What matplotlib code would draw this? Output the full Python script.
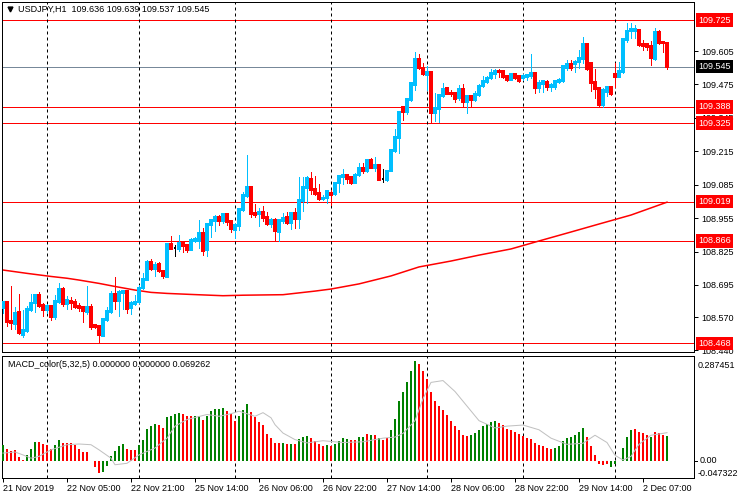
import matplotlib
matplotlib.use("Agg")
import matplotlib.pyplot as plt
import matplotlib.transforms as mtransforms

plt.rcParams['font.family'] = ['Liberation Sans', 'DejaVu Sans']

# ---------------- data ----------------
symbol = "USDJPY,H1"
header_ohlc = "109.636 109.639 109.537 109.545"
macd_title = "MACD_color(5,32,5) 0.000000 0.000000 0.069262"

opens = [108.607, 108.629, 108.554, 108.544, 108.590, 108.500, 108.516, 108.597, 108.625, 108.656,
         108.617, 108.597, 108.614, 108.572, 108.630, 108.679, 108.621, 108.632, 108.629, 108.614,
         108.608, 108.591, 108.609, 108.538, 108.535, 108.498, 108.559, 108.591, 108.660, 108.634,
         108.665, 108.671, 108.607, 108.619, 108.630, 108.682, 108.715, 108.784, 108.758, 108.776,
         108.749, 108.727, 108.854, 108.839, 108.835, 108.857, 108.849, 108.831, 108.866, 108.866,
         108.896, 108.831, 108.928, 108.945, 108.959, 108.945, 108.971, 108.944, 108.909, 108.926,
         108.987, 109.042, 109.077, 108.976, 108.971, 108.979, 108.961, 108.932, 108.948, 108.902,
         108.944, 108.959, 108.937, 108.975, 108.952, 109.022, 109.071, 109.107, 109.068, 109.051,
         109.028, 109.032, 109.054, 109.047, 109.090, 109.116, 109.123, 109.114, 109.093, 109.123,
         109.151, 109.138, 109.181, 109.151, 109.162, 109.106, 109.103, 109.138, 109.216, 109.265,
         109.389, 109.367, 109.415, 109.473, 109.574, 109.538, 109.512, 109.525, 109.363, 109.380,
         109.431, 109.463, 109.443, 109.440, 109.421, 109.457, 109.408, 109.430, 109.414, 109.434,
         109.469, 109.486, 109.499, 109.515, 109.528, 109.527, 109.508, 109.492, 109.514, 109.508,
         109.499, 109.505, 109.508, 109.518, 109.462, 109.476, 109.486, 109.466, 109.466, 109.483,
         109.488, 109.540, 109.554, 109.553, 109.561, 109.576, 109.632, 109.557, 109.483, 109.460,
         109.395, 109.444, 109.466, 109.515, 109.505, 109.522, 109.648, 109.683, 109.684, 109.687,
         109.632, 109.632, 109.626, 109.576, 109.680, 109.641, 109.636]
highs = [108.632, 108.632, 108.691, 108.609, 108.660, 108.597, 108.613, 108.660, 108.661, 108.666,
         108.623, 108.621, 108.617, 108.655, 108.701, 108.686, 108.652, 108.649, 108.640, 108.623,
         108.613, 108.692, 108.619, 108.543, 108.536, 108.562, 108.610, 108.673, 108.727, 108.675,
         108.675, 108.675, 108.634, 108.656, 108.695, 108.740, 108.792, 108.797, 108.783, 108.785,
         108.753, 108.854, 108.885, 108.850, 108.889, 108.862, 108.853, 108.876, 108.880, 108.948,
         108.918, 108.932, 108.950, 108.966, 108.966, 108.971, 108.971, 108.948, 108.937, 108.993,
         109.058, 109.201, 109.077, 109.010, 108.996, 109.002, 108.977, 108.957, 108.954, 108.952,
         108.974, 108.980, 108.980, 108.993, 109.114, 109.114, 109.119, 109.134, 109.119, 109.086,
         109.045, 109.064, 109.064, 109.097, 109.123, 109.146, 109.127, 109.119, 109.129, 109.168,
         109.168, 109.181, 109.190, 109.194, 109.166, 109.145, 109.142, 109.220, 109.300, 109.369,
         109.392, 109.421, 109.482, 109.600, 109.592, 109.557, 109.548, 109.527, 109.440, 109.434,
         109.479, 109.465, 109.453, 109.447, 109.473, 109.475, 109.436, 109.436, 109.449, 109.475,
         109.508, 109.509, 109.537, 109.535, 109.535, 109.528, 109.512, 109.514, 109.517, 109.512,
         109.514, 109.517, 109.593, 109.522, 109.492, 109.492, 109.492, 109.479, 109.492, 109.499,
         109.550, 109.570, 109.570, 109.570, 109.609, 109.658, 109.635, 109.560, 109.535, 109.462,
         109.460, 109.466, 109.466, 109.557, 109.563, 109.652, 109.713, 109.716, 109.706, 109.689,
         109.648, 109.635, 109.644, 109.693, 109.687, 109.644, 109.639]
lows = [108.584, 108.536, 108.522, 108.524, 108.503, 108.494, 108.513, 108.594, 108.590, 108.610,
        108.576, 108.584, 108.559, 108.561, 108.626, 108.614, 108.603, 108.603, 108.604, 108.594,
        108.551, 108.581, 108.524, 108.526, 108.468, 108.498, 108.556, 108.584, 108.601, 108.576,
        108.600, 108.584, 108.582, 108.617, 108.623, 108.678, 108.714, 108.753, 108.731, 108.744,
        108.723, 108.727, 108.835, 108.808, 108.827, 108.824, 108.824, 108.831, 108.862, 108.837,
        108.811, 108.808, 108.883, 108.906, 108.928, 108.935, 108.928, 108.902, 108.876, 108.909,
        108.984, 109.038, 108.961, 108.961, 108.926, 108.944, 108.928, 108.922, 108.870, 108.866,
        108.935, 108.932, 108.911, 108.915, 108.915, 108.984, 109.013, 109.049, 109.045, 109.025,
        109.025, 109.013, 109.006, 109.045, 109.058, 109.088, 109.090, 109.086, 109.090, 109.119,
        109.132, 109.136, 109.149, 109.138, 109.103, 109.097, 109.101, 109.138, 109.214, 109.207,
        109.337, 109.360, 109.412, 109.453, 109.534, 109.512, 109.453, 109.324, 109.334, 109.330,
        109.428, 109.437, 109.430, 109.408, 109.414, 109.388, 109.365, 109.392, 109.410, 109.430,
        109.464, 109.479, 109.495, 109.499, 109.505, 109.502, 109.490, 109.492, 109.496, 109.483,
        109.492, 109.492, 109.501, 109.443, 109.447, 109.447, 109.453, 109.449, 109.457, 109.479,
        109.486, 109.531, 109.531, 109.525, 109.541, 109.557, 109.531, 109.449, 109.421, 109.392,
        109.388, 109.431, 109.434, 109.466, 109.505, 109.518, 109.641, 109.654, 109.654, 109.624,
        109.609, 109.611, 109.550, 109.572, 109.631, 109.602, 109.537]
closes = [108.630, 108.552, 108.546, 108.586, 108.507, 108.520, 108.601, 108.623, 108.656, 108.614,
          108.599, 108.613, 108.572, 108.632, 108.679, 108.621, 108.636, 108.625, 108.610, 108.607,
          108.594, 108.608, 108.533, 108.533, 108.499, 108.562, 108.594, 108.660, 108.634, 108.667,
          108.671, 108.603, 108.625, 108.630, 108.683, 108.718, 108.784, 108.758, 108.773, 108.750,
          108.731, 108.854, 108.836, 108.839, 108.857, 108.846, 108.831, 108.870, 108.875, 108.896,
          108.828, 108.932, 108.948, 108.958, 108.945, 108.971, 108.941, 108.913, 108.927, 108.990,
          109.045, 109.077, 108.972, 108.967, 108.979, 108.957, 108.932, 108.948, 108.906, 108.948,
          108.957, 108.937, 108.974, 108.952, 109.025, 109.075, 109.110, 109.064, 109.047, 109.029,
          109.035, 109.060, 109.045, 109.090, 109.119, 109.123, 109.107, 109.093, 109.124, 109.151,
          109.138, 109.181, 109.151, 109.162, 109.103, 109.106, 109.138, 109.220, 109.269, 109.369,
          109.369, 109.418, 109.479, 109.574, 109.538, 109.516, 109.522, 109.365, 109.385, 109.434,
          109.456, 109.438, 109.437, 109.417, 109.457, 109.408, 109.430, 109.414, 109.438, 109.470,
          109.488, 109.502, 109.519, 109.528, 109.523, 109.505, 109.492, 109.514, 109.501, 109.488,
          109.509, 109.512, 109.518, 109.462, 109.479, 109.488, 109.466, 109.474, 109.488, 109.492,
          109.547, 109.554, 109.541, 109.563, 109.579, 109.632, 109.534, 109.482, 109.457, 109.395,
          109.453, 109.466, 109.438, 109.505, 109.527, 109.652, 109.684, 109.689, 109.691, 109.628,
          109.626, 109.619, 109.579, 109.680, 109.637, 109.635, 109.545]

# moving average (sampled at bar indices)
ma_idx = [0, 6, 12, 16, 19, 24, 28, 33, 37, 41, 47, 55, 60, 70, 78, 82, 89, 97, 104,
          112, 119, 127, 134, 142, 149, 157, 166]
ma_val = [108.753, 108.740, 108.728, 108.721, 108.714, 108.701, 108.689, 108.675, 108.666,
          108.662, 108.658, 108.653, 108.655, 108.657, 108.671, 108.679, 108.699, 108.730,
          108.765, 108.788, 108.811, 108.835, 108.866, 108.901, 108.932, 108.967, 109.017]

# MACD histogram and colours (g = rising, r = falling)
macd_hist = [0.042, 0.032, 0.026, 0.030, 0.009, 0.003, 0.016, 0.032, 0.051, 0.051,
             0.046, 0.044, 0.032, 0.044, 0.058, 0.049, 0.049, 0.049, 0.042, 0.033,
             0.023, 0.023, -0.002, -0.016, -0.034, -0.030, -0.014, 0.012, 0.026, 0.041,
             0.047, 0.032, 0.030, 0.030, 0.042, 0.058, 0.086, 0.095, 0.102, 0.097,
             0.090, 0.120, 0.124, 0.129, 0.132, 0.127, 0.122, 0.122, 0.122, 0.122,
             0.113, 0.122, 0.136, 0.141, 0.143, 0.144, 0.136, 0.127, 0.110, 0.122,
             0.138, 0.155, 0.133, 0.120, 0.106, 0.097, 0.074, 0.062, 0.050, 0.049,
             0.049, 0.046, 0.046, 0.046, 0.061, 0.064, 0.068, 0.062, 0.055, 0.047,
             0.041, 0.043, 0.040, 0.046, 0.055, 0.062, 0.060, 0.056, 0.058, 0.066,
             0.065, 0.073, 0.071, 0.072, 0.063, 0.058, 0.062, 0.085, 0.115, 0.165,
             0.190, 0.215, 0.245, 0.275, 0.265, 0.245, 0.225, 0.190, 0.165, 0.150,
             0.140, 0.125, 0.110, 0.095, 0.085, 0.072, 0.068, 0.070, 0.075, 0.085,
             0.095, 0.100, 0.105, 0.108, 0.104, 0.097, 0.088, 0.085, 0.080, 0.073,
             0.068, 0.062, 0.060, 0.050, 0.044, 0.040, 0.035, 0.033, 0.035, 0.040,
             0.055, 0.062, 0.066, 0.070, 0.078, 0.090, 0.065, 0.040, 0.015, -0.008,
             -0.012, -0.010, -0.018, -0.008, 0.000, 0.035, 0.065, 0.085, 0.088, 0.080,
             0.077, 0.072, 0.065, 0.078, 0.075, 0.072, 0.069]
macd_dir = ("grrrrrgggrrrrggrrrrrrrrrrggggggrrrgggggrrggggrrrggrgggggrrrgggrrrrrrrrgrgrg"
            "ggrrrrgrggggrrggrgrgrrggggggg"
            "rrrrrrrrrrrrrggggggg"
            "rrrrrrrrrrrrrrgggggggg"
            "rrrrrrgggggg"
            "rrrrgrrr")
signal_idx = [0, 3, 5, 7, 9, 12, 16, 19, 22, 24, 27, 28, 31, 34, 38, 41, 43, 46, 51, 54,
              57, 59, 63, 65, 67, 68, 70, 73, 76, 80, 85, 90, 95, 98, 100, 103, 105, 107,
              110, 113, 116, 119, 123, 126, 130, 134, 137, 141, 145, 148, 151, 153, 155,
              157, 159, 162, 166]
signal_val = [0.021, 0.024, 0.016, 0.007, 0.012, 0.030, 0.044, 0.046, 0.044, 0.030,
              0.007, -0.011, -0.007, 0.016, 0.035, 0.062, 0.095, 0.113, 0.127, 0.122,
              0.129, 0.136, 0.122, 0.132, 0.118, 0.099, 0.076, 0.058, 0.049, 0.055,
              0.050, 0.052, 0.062, 0.065, 0.075, 0.110, 0.170, 0.215, 0.220, 0.190,
              0.150, 0.110, 0.090, 0.095, 0.098, 0.085, 0.062, 0.045, 0.048, 0.070,
              0.050, 0.015, 0.002, 0.012, 0.045, 0.070, 0.077]

red_levels = [109.725, 109.388, 109.325, 109.019, 108.866, 108.468]
current_price = 109.545
price_ticks = [109.605, 109.475, 109.345, 109.215, 109.085, 108.955, 108.825, 108.695, 108.570, 108.440]
macd_max, macd_min = 0.287451, -0.047322

day_separators = [11, 34, 58, 82, 106, 130, 153]
time_tick_idx = [0, 16, 32, 48, 64, 80, 96, 112, 128, 144, 160]
time_labels = ["21 Nov 2019", "22 Nov 05:00", "22 Nov 21:00", "25 Nov 14:00", "26 Nov 06:00",
               "26 Nov 22:00", "27 Nov 14:00", "28 Nov 06:00", "28 Nov 22:00", "29 Nov 14:00",
               "2 Dec 07:00"]

# ---------------- styles ----------------
BULL = "#00BFFF"
BEAR = "#FF0000"
GREEN = "#008000"
FS = 6.5
PX = 0.72  # one pixel in points

W, H = 740, 500
fig = plt.figure(figsize=(W / 100, H / 100), dpi=100)

def frac(x0, y0, x1, y1):
    return [x0 / W, 1 - y1 / H, (x1 - x0) / W, (y1 - y0) / H]

ax = fig.add_axes(frac(2, 2, 694, 352))
ax2 = fig.add_axes(frac(2, 356, 694, 478), sharex=ax)

n = len(opens)
xs = list(range(n))

# candles
for i in xs:
    o, h, l, c = opens[i], highs[i], lows[i], closes[i]
    col = BULL if c > o else (BEAR if c < o else "black")
    ax.vlines(i, l, h, color=col, lw=PX, antialiased=False, zorder=3)
    bottom = min(o, c)
    height = max(abs(c - o), 0.0005)
    ax.bar(i, height, bottom=bottom, width=0.72, color=col, edgecolor=col,
           linewidth=0.3, antialiased=False, zorder=4)

# MA line
ax.plot(ma_idx, ma_val, color=BEAR, lw=1.1, zorder=2)

# horizontal levels
for lv in red_levels:
    ax.axhline(lv, color=BEAR, lw=PX, zorder=1)
ax.axhline(current_price, color="#778899", lw=PX, zorder=1)

# day separators
for d in day_separators:
    for a in (ax, ax2):
        a.axvline(d, color="black", lw=PX, ls=(0, (3, 3)), zorder=1)

ax.set_xlim(-0.25, 172.75)
ax.set_ylim(108.434, 109.796)
ax.yaxis.tick_right()
ax.set_yticks(price_ticks)
ax.set_yticklabels([f"{p:.3f}" for p in price_ticks], fontsize=FS)
ax.tick_params(axis='y', length=3, width=PX, pad=2, direction='out')
ax.tick_params(axis='x', bottom=False, labelbottom=False)
for sp in ax.spines.values():
    sp.set_linewidth(PX)

blend = mtransforms.blended_transform_factory(ax.transAxes, ax.transData)
for lv in red_levels:
    ax.text(1.006, lv, f"{lv:.3f}", transform=blend, color="white", fontsize=FS,
            va="center", ha="left", zorder=10, clip_on=False,
            bbox=dict(boxstyle="square,pad=0.25", fc=BEAR, ec="none"))
ax.text(1.006, current_price, f"{current_price:.3f}", transform=blend, color="white",
        fontsize=FS, va="center", ha="left", zorder=10, clip_on=False,
        bbox=dict(boxstyle="square,pad=0.25", fc="black", ec="none"))

# header
ax.plot([0.011], [0.979], marker="v", color="black", markersize=3.5,
        transform=ax.transAxes, clip_on=False)
ax.text(0.023, 0.979, f"{symbol}  {header_ohlc}", transform=ax.transAxes,
        fontsize=FS, va="center", ha="left", color="#000000")

# MACD panel
hist_cols = [GREEN if c == "g" else BEAR for c in macd_dir[:n]]
ax2.bar(xs, macd_hist, width=0.72, color=hist_cols, linewidth=0, antialiased=False, zorder=3)
ax2.plot(signal_idx, signal_val, color="#C0C0C0", lw=PX, zorder=4)
ax2.set_ylim(macd_min, macd_max)
ax2.set_yticks([])
for sp in ax2.spines.values():
    sp.set_linewidth(PX)
ax2.text(0.008, 0.93, macd_title, transform=ax2.transAxes, fontsize=FS, va="center", ha="left")

fig.text(698 / W, 1 - 365 / H, f"{macd_max:.6f}", fontsize=FS, va="center", ha="left")
blend2 = mtransforms.blended_transform_factory(ax2.transAxes, ax2.transData)
ax2.text(1.008, 0.0, "0.00", transform=blend2, fontsize=FS, va="center", ha="left", clip_on=False)
fig.text(698 / W, 1 - 474 / H, f"{macd_min:.6f}", fontsize=FS, va="center", ha="left")
ax2.plot([1.0, 1.005], [0.0, 0.0], color="black", lw=PX, transform=blend2, clip_on=False)

ax2.set_xticks(time_tick_idx)
ax2.set_xticklabels(time_labels, fontsize=FS, ha="left")
ax2.tick_params(axis='x', length=3, width=PX, pad=1.5, direction='out')

fig.savefig("out.png", dpi=100)
